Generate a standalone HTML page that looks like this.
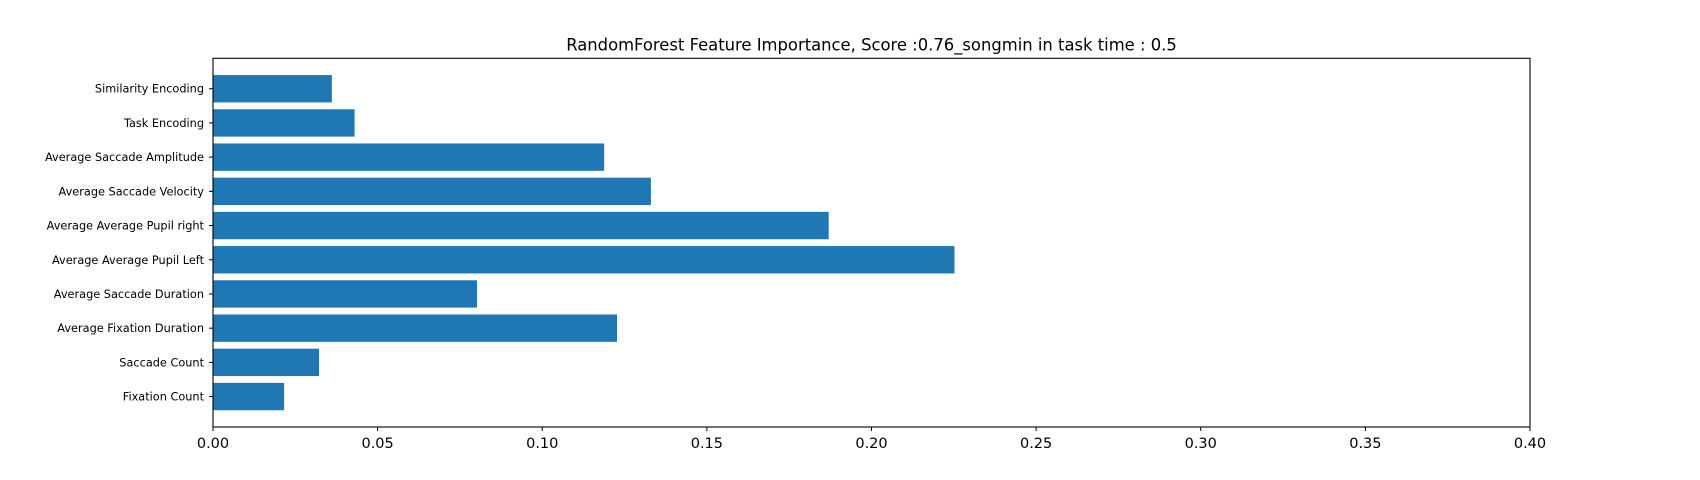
<!DOCTYPE html>
<html><head><meta charset="utf-8"><style>
body{margin:0;background:#fff;}
svg{display:block;font-family:"DejaVu Sans","Liberation Sans",sans-serif;}
</style></head><body>
<svg id="chart" width="1700" height="480" xmlns="http://www.w3.org/2000/svg">
<rect width="1700" height="480" fill="#fff"/>
<text x="871.5" y="50.5" font-size="16.4" text-anchor="middle" fill="#000">RandomForest Feature Importance, Score :0.76_songmin in task time : 0.5</text>
<g id="bars"></g>
<g id="axes"></g>
</svg>
<script>
const categories = ["Fixation Count","Saccade Count","Average Fixation Duration","Average Saccade Duration","Average Average Pupil Left","Average Average Pupil right","Average Saccade Velocity","Average Saccade Amplitude","Task Encoding","Similarity Encoding"];
const values = [0.0216,0.0322,0.1227,0.0802,0.2252,0.187,0.133,0.1188,0.043,0.0361];
const xTicks = [0,0.05,0.10,0.15,0.20,0.25,0.30,0.35,0.40];
const xTickLabels = ["0.00","0.05","0.10","0.15","0.20","0.25","0.30","0.35","0.40"];

const L=213,R=1530,T=58.3,B=427;
const yMin=-0.89,yMax=categories.length-1+0.89;
const xs=v=>L+(v/0.40)*(R-L);
const ys=i=>B-(i-yMin)/(yMax-yMin)*(B-T);
const NS="http://www.w3.org/2000/svg";
const bars=document.getElementById('bars'),axes=document.getElementById('axes');
function mk(tag,attrs,parent){const e=document.createElementNS(NS,tag);for(const k in attrs)e.setAttribute(k,attrs[k]);parent.appendChild(e);return e;}
const bh=0.8*(B-T)/(yMax-yMin);
values.forEach((v,i)=>{
  const r=mk('rect',{x:xs(0),y:ys(i)-bh/2,width:xs(v)-xs(0),height:bh,fill:'#1f77b4'},bars);
  
  
  const t=mk('line',{x1:L-4,x2:L,y1:ys(i),y2:ys(i),stroke:'#000','stroke-width':1},axes);
  
  
  const lb=mk('text',{x:L-9,y:ys(i)+4,'font-size':11.3,'text-anchor':'end',fill:'#000'},axes);
  lb.textContent=categories[i];
  
  
});
xTicks.forEach((v,i)=>{
  const t=mk('line',{x1:xs(v),x2:xs(v),y1:B,y2:B+4,stroke:'#000','stroke-width':1},axes);
  
  
  const lb=mk('text',{x:xs(v),y:B+21,'font-size':14.5,'text-anchor':'middle',fill:'#000'},axes);
  lb.textContent=xTickLabels[i];
  
  
});
const f=mk('rect',{x:L,y:T,width:R-L,height:B-T,fill:'none',stroke:'#000','stroke-width':1.1},axes);


</script>
</body></html>
